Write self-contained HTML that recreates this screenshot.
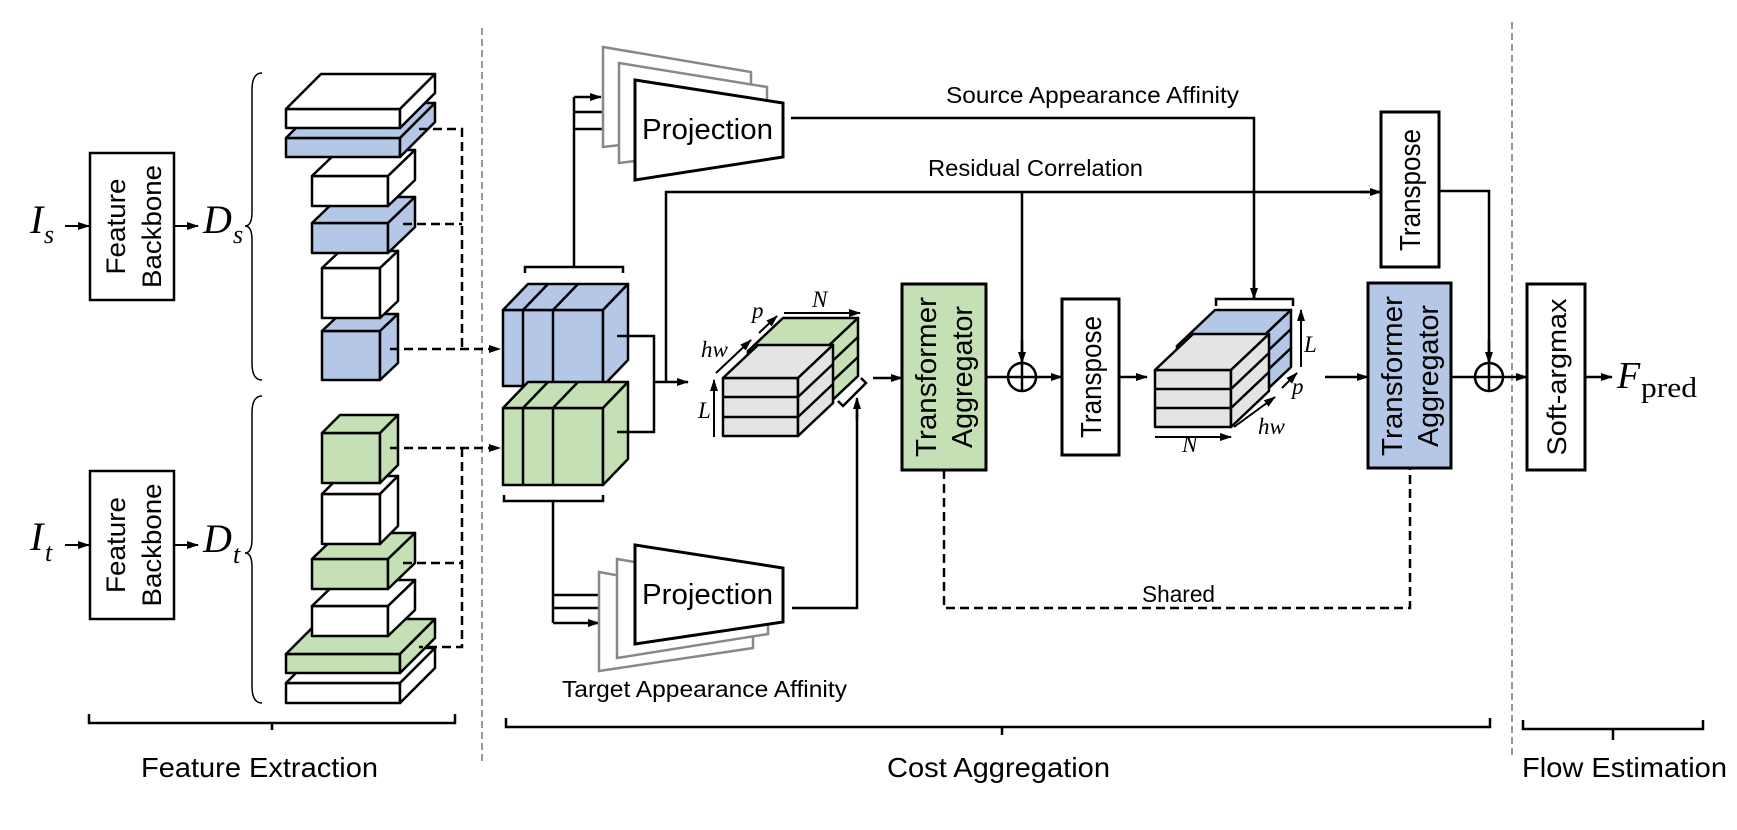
<!DOCTYPE html>
<html><head><meta charset="utf-8"><style>
html,body{margin:0;padding:0;background:#fff;}
svg{display:block;}
text{font-family:"Liberation Sans",sans-serif;fill:#000;}
.m{font-family:"Liberation Serif",serif;font-style:italic;}
</style></head><body>
<svg width="1737" height="830" viewBox="0 0 1737 830" xmlns="http://www.w3.org/2000/svg">
<defs>
<marker id="a" markerUnits="userSpaceOnUse" markerWidth="12" markerHeight="10" refX="11" refY="5" orient="auto"><path d="M0,1 L12,5 L0,9 Z" fill="#000"/></marker>
</defs>
<rect width="1737" height="830" fill="#fff"/>

<g stroke="#777" stroke-width="1.5" stroke-dasharray="7,4">
<line x1="482" y1="28" x2="482" y2="762"/>
<line x1="1512" y1="22" x2="1512" y2="755"/>
</g>

<g stroke="#000" stroke-width="2.5" fill="none">
<rect x="90" y="153" width="84" height="147" fill="#fff"/>
<rect x="90" y="471" width="84" height="148" fill="#fff"/>
</g>
<g stroke="#000" stroke-width="2" marker-end="url(#a)">
<line x1="65" y1="226" x2="89" y2="226"/>
<line x1="174" y1="226" x2="198" y2="226"/>
<line x1="65" y1="545" x2="89" y2="545"/>
<line x1="174" y1="545" x2="198" y2="545"/>
</g>
<g font-size="27">
<text transform="translate(125,226.5) rotate(-90)" text-anchor="middle" textLength="96" lengthAdjust="spacingAndGlyphs">Feature</text>
<text transform="translate(161,226.5) rotate(-90)" text-anchor="middle" textLength="123" lengthAdjust="spacingAndGlyphs">Backbone</text>
<text transform="translate(125,545) rotate(-90)" text-anchor="middle" textLength="96" lengthAdjust="spacingAndGlyphs">Feature</text>
<text transform="translate(161,545) rotate(-90)" text-anchor="middle" textLength="123" lengthAdjust="spacingAndGlyphs">Backbone</text>
</g>
<text class="m" x="30" y="233" font-size="40">I</text><text class="m" x="44" y="243" font-size="26">s</text>
<text class="m" x="203" y="233" font-size="40">D</text><text class="m" x="233" y="243" font-size="26">s</text>
<text class="m" x="30" y="550" font-size="40">I</text><text class="m" x="45" y="561" font-size="26">t</text>
<text class="m" x="203" y="552" font-size="40">D</text><text class="m" x="233" y="563" font-size="26">t</text>

<g stroke="#000" stroke-width="1.5" fill="none">
<path d="M262,73 Q252,73 252,90 L252,212 Q252,226 245,226 Q252,226 252,240 L252,363 Q252,380 262,380"/>
<path d="M262,396 Q252,396 252,413 L252,539 Q252,553 245,553 Q252,553 252,567 L252,686 Q252,703 262,703"/>
</g>

<g stroke="#000" stroke-width="2.5" stroke-linejoin="round">
<g fill="#fff"><rect x="286" y="683" width="114" height="20"/><polygon points="286,683 321,648 435,648 400,683"/><polygon points="400,683 435,648 435,668 400,703"/></g>
<g fill="#c5e0b4"><rect x="286" y="654" width="114" height="19"/><polygon points="286,654 321,619 435,619 400,654"/><polygon points="400,654 435,619 435,638 400,673"/></g>
<g fill="#fff"><rect x="312" y="606" width="76" height="30"/><polygon points="312,606 339,580 415,580 388,606"/><polygon points="388,606 415,580 415,610 388,636"/></g>
<g fill="#c5e0b4"><rect x="312" y="559" width="76" height="30"/><polygon points="312,559 339,533 415,533 388,559"/><polygon points="388,559 415,533 415,563 388,589"/></g>
<g fill="#fff"><rect x="322" y="494" width="58" height="50"/><polygon points="322,494 340,476 398,476 380,494"/><polygon points="380,494 398,476 398,526 380,544"/></g>
<g fill="#c5e0b4"><rect x="322" y="433" width="58" height="50"/><polygon points="322,433 340,415 398,415 380,433"/><polygon points="380,433 398,415 398,465 380,483"/></g>
<g fill="#b4c7e7"><rect x="322" y="331" width="58" height="49"/><polygon points="322,331 340,314 398,314 380,331"/><polygon points="380,331 398,314 398,363 380,380"/></g>
<g fill="#fff"><rect x="322" y="268" width="58" height="50"/><polygon points="322,268 340,251 398,251 380,268"/><polygon points="380,268 398,251 398,301 380,318"/></g>
<g fill="#b4c7e7"><rect x="312" y="223" width="76" height="30"/><polygon points="312,223 339,197 415,197 388,223"/><polygon points="388,223 415,197 415,227 388,253"/></g>
<g fill="#fff"><rect x="312" y="176" width="76" height="30"/><polygon points="312,176 339,150 415,150 388,176"/><polygon points="388,176 415,150 415,180 388,206"/></g>
<g fill="#b4c7e7"><rect x="286" y="138" width="114" height="19"/><polygon points="286,138 321,103 435,103 400,138"/><polygon points="400,138 435,103 435,122 400,157"/></g>
<g fill="#fff"><rect x="286" y="109" width="114" height="19"/><polygon points="286,109 321,74 435,74 400,109"/><polygon points="400,109 435,74 435,93 400,128"/></g>
</g>

<g stroke="#000" stroke-width="2.5" fill="none" stroke-dasharray="9,5">
<polyline points="419,129 462,129 462,349"/>
<line x1="403" y1="224" x2="462" y2="224"/>
<line x1="390" y1="349" x2="500" y2="349" marker-end="url(#a)"/>
<line x1="390" y1="448" x2="500" y2="448" marker-end="url(#a)"/>
<polyline points="462,448 462,647 419,647"/>
<line x1="403" y1="563" x2="462" y2="563"/>
<polyline points="944,470 944,608 1410,608 1410,468"/>
</g>

<g stroke="#000" stroke-width="2.5" stroke-linejoin="round">
<g fill="#b4c7e7"><rect x="503" y="310" width="100" height="76"/><polygon points="503,310 528,284 628,284 603,310"/><polygon points="603,310 628,284 628,360 603,386"/></g>
<g fill="none"><line x1="523" y1="310" x2="523" y2="386"/><line x1="553" y1="310" x2="553" y2="386"/><line x1="523" y1="310" x2="548" y2="284"/><line x1="553" y1="310" x2="578" y2="284"/></g>
<g fill="#c5e0b4"><rect x="503" y="408" width="100" height="77"/><polygon points="503,408 528,382 628,382 603,408"/><polygon points="603,408 628,382 628,459 603,485"/></g>
<g fill="none"><line x1="523" y1="408" x2="523" y2="485"/><line x1="553" y1="408" x2="553" y2="485"/><line x1="523" y1="408" x2="548" y2="382"/><line x1="553" y1="408" x2="578" y2="382"/></g>
</g>

<g stroke="#000" stroke-width="2.5" fill="none">
<polyline points="525,273 525,267 623,267 623,273"/>
<polyline points="504,495 504,501 603,501 603,495"/>
<line x1="574" y1="267" x2="574" y2="97"/>
<line x1="553" y1="501" x2="553" y2="623"/>
<polyline points="617,336 654,336 654,432 617,432"/>
<polyline points="666,382 666,192 1380,192"/>
<polyline points="791,118 1254,118 1254,298"/>
<polyline points="792,608 857,608 857,400"/>
<polyline points="1439,191 1489,191 1489,363"/>
<line x1="1022" y1="192" x2="1022" y2="363"/>
<line x1="986" y1="377" x2="1008" y2="377"/>
<line x1="1451" y1="377" x2="1475" y2="377"/>
<polyline points="1216,306 1216,299 1293,299 1293,306"/>
<circle cx="1022" cy="377" r="14"/><line x1="1008" y1="377" x2="1036" y2="377"/><line x1="1022" y1="363" x2="1022" y2="391"/>
<circle cx="1489" cy="377" r="14"/><line x1="1475" y1="377" x2="1503" y2="377"/><line x1="1489" y1="363" x2="1489" y2="391"/>
<path d="M838,401 L843,406 L866,383 L861,378"/>
</g>
<g stroke="#000" stroke-width="2.5" marker-end="url(#a)">
<line x1="574" y1="97" x2="601" y2="97"/>
<line x1="574" y1="112" x2="617" y2="112"/>
<line x1="574" y1="129" x2="632" y2="129"/>
<line x1="553" y1="595" x2="634" y2="595"/>
<line x1="553" y1="608" x2="616" y2="608"/>
<line x1="553" y1="623" x2="599" y2="623"/>
<line x1="654" y1="382" x2="688" y2="382"/>
<line x1="1254" y1="280" x2="1254" y2="299"/>
<line x1="1022" y1="340" x2="1022" y2="363"/>
<line x1="1489" y1="340" x2="1489" y2="363"/>
<line x1="1360" y1="192" x2="1381" y2="192"/>
<line x1="857" y1="420" x2="857" y2="398"/>
<line x1="873" y1="378" x2="902" y2="378"/>
<line x1="1036" y1="377" x2="1062" y2="377"/>
<line x1="1119" y1="377" x2="1147" y2="377"/>
<line x1="1325" y1="377" x2="1368" y2="377"/>
<line x1="1503" y1="377" x2="1527" y2="377"/>
<line x1="1585" y1="377" x2="1612" y2="377"/>
</g>

<g stroke="#888" stroke-width="2.5" fill="#fff">
<polygon points="603,47 751,72 751,130 603,147"/>
<polygon points="619,63 767,87 767,145 619,163"/>
<polygon points="599,572 599,671 753,648 753,600"/>
<polygon points="617,559 617,658 768,634 768,585"/>
</g>
<g stroke="#000" stroke-width="3" fill="#fff">
<polygon points="635,80 783,103 783,157 635,180"/>
<polygon points="635,545 783,568 783,622 635,644"/>
</g>
<text x="642" y="139" font-size="29" textLength="131" lengthAdjust="spacingAndGlyphs">Projection</text>
<text x="642" y="604" font-size="29" textLength="131" lengthAdjust="spacingAndGlyphs">Projection</text>

<g stroke="#000" stroke-width="2.5" stroke-linejoin="round">
<g fill="#c5e0b4"><rect x="748" y="351" width="75" height="58"/><polygon points="748,351 783,318 858,318 823,351"/><polygon points="823,351 858,318 858,376 823,409"/></g>
<line x1="823" y1="370" x2="858" y2="337"/><line x1="823" y1="390" x2="858" y2="357"/>
<g fill="#e4e4e4"><rect x="723" y="378" width="75" height="58"/><polygon points="723,378 758,345 833,345 798,378"/><polygon points="798,378 833,345 833,403 798,436"/></g>
<line x1="723" y1="397" x2="798" y2="397"/><line x1="723" y1="417" x2="798" y2="417"/>
<line x1="798" y1="397" x2="833" y2="364"/><line x1="798" y1="417" x2="833" y2="384"/>
</g>
<g stroke="#000" stroke-width="2.5" stroke-linejoin="round">
<g fill="#b4c7e7"><rect x="1177" y="346" width="76" height="57"/><polygon points="1177,346 1215,310 1291,310 1253,346"/><polygon points="1253,346 1291,310 1291,367 1253,403"/></g>
<line x1="1253" y1="365" x2="1291" y2="329"/><line x1="1253" y1="384" x2="1291" y2="348"/>
<g fill="#e4e4e4"><rect x="1155" y="370" width="76" height="57"/><polygon points="1155,370 1193,334 1269,334 1231,370"/><polygon points="1231,370 1269,334 1269,391 1231,427"/></g>
<line x1="1155" y1="389" x2="1231" y2="389"/><line x1="1155" y1="408" x2="1231" y2="408"/>
<line x1="1231" y1="389" x2="1269" y2="353"/><line x1="1231" y1="408" x2="1269" y2="372"/>
</g>
<g stroke="#000" stroke-width="2" marker-end="url(#a)">
<line x1="784" y1="313" x2="860" y2="313"/>
<line x1="759" y1="333" x2="777" y2="316"/>
<line x1="716" y1="373" x2="751" y2="340"/>
<line x1="714" y1="437" x2="714" y2="380"/>
<line x1="1155" y1="437" x2="1231" y2="437"/>
<line x1="1234" y1="427" x2="1275" y2="397"/>
<line x1="1282" y1="388" x2="1297" y2="373"/>
<line x1="1301" y1="367" x2="1301" y2="310"/>
</g>
<g font-size="23">
<text class="m" x="812" y="307">N</text>
<text class="m" x="752" y="318">p</text>
<text class="m" x="701" y="357">hw</text>
<text class="m" x="698" y="418">L</text>
<text class="m" x="1182" y="452">N</text>
<text class="m" x="1292" y="394">p</text>
<text class="m" x="1258" y="434">hw</text>
<text class="m" x="1304" y="352">L</text>
</g>

<g stroke="#000" stroke-width="3">
<rect x="902" y="284" width="84" height="186" fill="#c5e0b4"/>
<rect x="1368" y="283" width="83" height="185" fill="#b4c7e7"/>
<rect x="1062" y="299" width="57" height="156" fill="#fff"/>
<rect x="1381" y="112" width="58" height="155" fill="#fff"/>
<rect x="1527" y="284" width="58" height="186" fill="#fff"/>
</g>
<g font-size="29">
<text transform="translate(936,377) rotate(-90)" text-anchor="middle" textLength="160" lengthAdjust="spacingAndGlyphs">Transformer</text>
<text transform="translate(972,377) rotate(-90)" text-anchor="middle" textLength="142" lengthAdjust="spacingAndGlyphs">Aggregator</text>
<text transform="translate(1402,376) rotate(-90)" text-anchor="middle" textLength="160" lengthAdjust="spacingAndGlyphs">Transformer</text>
<text transform="translate(1438,376) rotate(-90)" text-anchor="middle" textLength="142" lengthAdjust="spacingAndGlyphs">Aggregator</text>
<text transform="translate(1101,377) rotate(-90)" text-anchor="middle" textLength="122" lengthAdjust="spacingAndGlyphs">Transpose</text>
<text transform="translate(1420,190) rotate(-90)" text-anchor="middle" textLength="122" lengthAdjust="spacingAndGlyphs">Transpose</text>
</g>
<text transform="translate(1566,377) rotate(-90)" text-anchor="middle" font-size="27" textLength="157" lengthAdjust="spacingAndGlyphs">Soft-argmax</text>
<text class="m" x="1617" y="388" font-size="38">F</text>
<text x="1641" y="397" font-size="28" style="font-family:'Liberation Serif',serif" textLength="56" lengthAdjust="spacingAndGlyphs">pred</text>

<g font-size="23">
<text x="946" y="103" textLength="293" lengthAdjust="spacingAndGlyphs">Source Appearance Affinity</text>
<text x="928" y="176" textLength="215" lengthAdjust="spacingAndGlyphs">Residual Correlation</text>
<text x="562" y="697" textLength="285" lengthAdjust="spacingAndGlyphs">Target Appearance Affinity</text>
<text x="1142" y="602" textLength="73" lengthAdjust="spacingAndGlyphs">Shared</text>
</g>

<g stroke="#000" stroke-width="2.5" fill="none">
<polyline points="89,714 89,723 455,723 455,714"/><line x1="272" y1="723" x2="272" y2="730"/>
<polyline points="506,718 506,727 1490,727 1490,718"/><line x1="1002" y1="727" x2="1002" y2="735"/>
<polyline points="1523,720 1523,729 1703,729 1703,720"/><line x1="1613" y1="729" x2="1613" y2="740"/>
</g>
<g font-size="28">
<text x="141" y="777" textLength="237" lengthAdjust="spacingAndGlyphs">Feature Extraction</text>
<text x="887" y="777" textLength="223" lengthAdjust="spacingAndGlyphs">Cost Aggregation</text>
<text x="1522" y="777" textLength="205" lengthAdjust="spacingAndGlyphs">Flow Estimation</text>
</g>
</svg>
</body></html>
